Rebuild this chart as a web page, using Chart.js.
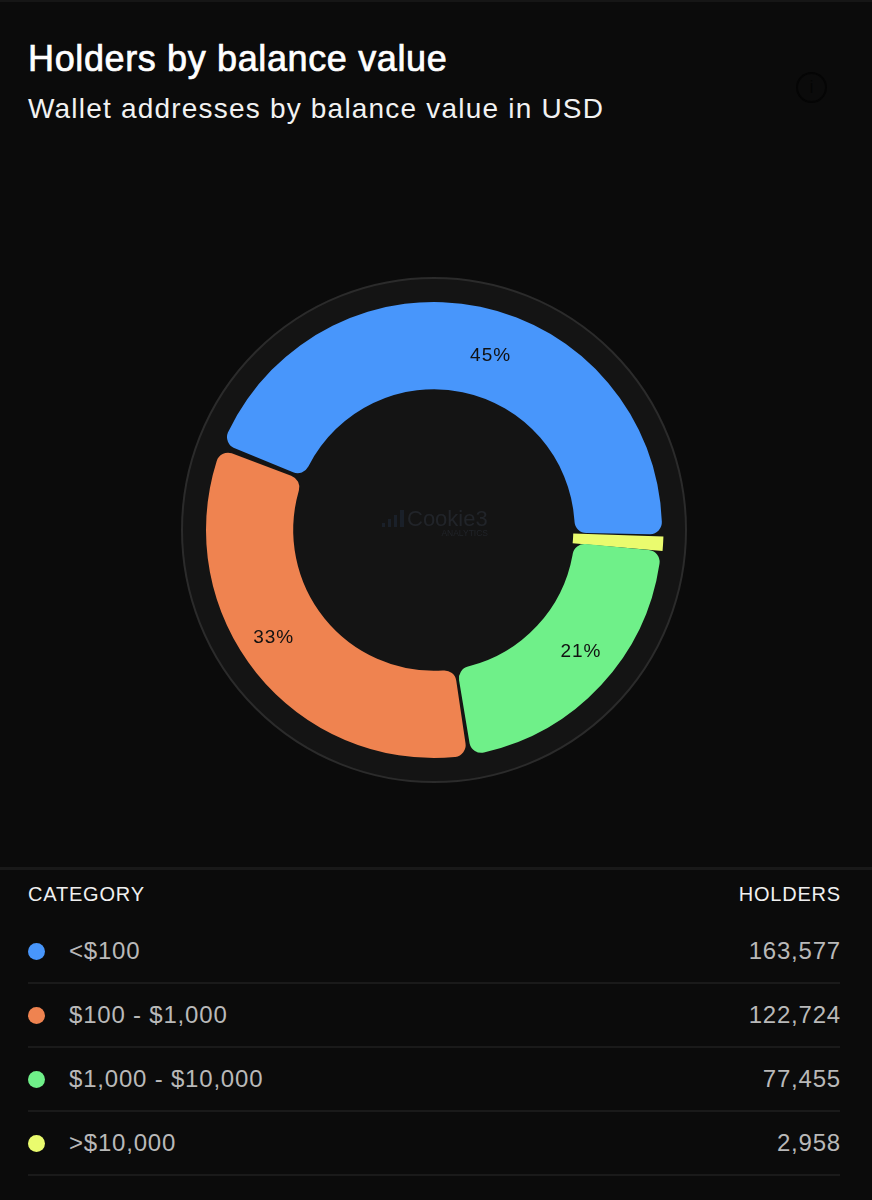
<!DOCTYPE html>
<html>
<head>
<meta charset="utf-8">
<script src="https://cdn.jsdelivr.net/npm/chart.js@4"></script>
<style>
  html, body { margin: 0; padding: 0; background: #0b0b0b; }
  body { position: relative; width: 872px; height: 1200px; overflow: hidden; font-family: "Liberation Sans", sans-serif; color: #fff; }
  .topline { position: absolute; left: 0; top: 0; width: 872px; height: 2px; background: #161616; }
  h1 { position: absolute; left: 28px; top: 37px; margin: 0; font-size: 36px; line-height: 44px; font-weight: 400; -webkit-text-stroke: 0.7px #fff; letter-spacing: 0.63px; white-space: nowrap; }
  .sub { position: absolute; left: 28px; top: 92px; font-size: 28px; line-height: 34px; color: #f2f2f2; letter-spacing: 1.2px; white-space: nowrap; }
  .info { position: absolute; left: 796px; top: 72px; width: 27px; height: 27px; border: 2px solid #050505; border-radius: 50%; color: #050505; font-size: 18px; line-height: 27px; text-align: center; }
  #chartBox { position: absolute; left: 134px; top: 230px; width: 600px; height: 600px; }
  .divider { position: absolute; left: 0; top: 867px; width: 872px; height: 3px; background: #191919; }
  .head { position: absolute; top: 882px; font-size: 20px; line-height: 24px; color: #f0f0f0; letter-spacing: 0.8px; }
  .row { position: absolute; left: 28px; width: 812px; height: 64px; border-bottom: 2px solid #1a1a1a; box-sizing: border-box; font-size: 24px; color: #b9b9b9; letter-spacing: 0.8px; }
  .dot { position: absolute; left: 0; top: 23px; width: 17px; height: 17px; border-radius: 50%; }
  .name { position: absolute; left: 41px; top: 16px; line-height: 30px; white-space: nowrap; }
  .num { position: absolute; right: -1px; top: 16px; line-height: 30px; }
</style>
</head>
<body>
<div class="topline"></div>
<h1>Holders by balance value</h1>
<div class="sub">Wallet addresses by balance value in USD</div>
<div class="info">i</div>
<div id="chartBox"><canvas id="holdersChart"></canvas></div>
<div class="divider"></div>
<div class="head" style="left:28px">CATEGORY</div>
<div class="head" style="right:31px">HOLDERS</div>
<div id="rows"></div>

<script>
const categories = ["<$100", "$100 - $1,000", "$1,000 - $10,000", ">$10,000"];
const holders = [163577, 122724, 77455, 2958];
const percentLabels = ["45%", "33%", "21%", ""];
const colors = ["#4896fb", "#ef8350", "#6ff089", "#eafb6e"];

// the ring runs counter-clockwise from 3 o'clock, chart.js only goes clockwise
const reversed = (list) => list.slice().reverse();

// percent labels sit off the slice middle: shift in degrees clockwise, distance from centre
const labelShift = [6.3, 5, -3.2, 0];
const labelRadius = [183, 193, 191, 0];

const rowsBox = document.getElementById("rows");
const rowTops = [920, 984, 1048, 1112];
categories.forEach((name, i) => {
  const row = document.createElement("div");
  row.className = "row";
  row.style.top = rowTops[i] + "px";
  row.innerHTML = `<span class="dot" style="background:${colors[i]}"></span>`;
  const label = document.createElement("span");
  label.className = "name";
  label.textContent = name;
  const num = document.createElement("span");
  num.className = "num";
  num.textContent = holders[i].toLocaleString("en-US");
  row.appendChild(label);
  row.appendChild(num);
  rowsBox.appendChild(row);
});

// dark disk with thin rim behind the ring, faint logo in the hole
const backdrop = {
  id: "backdrop",
  beforeDatasetsDraw(chart) {
    const arc = chart.getDatasetMeta(0).data[0];
    const ctx = chart.ctx;
    ctx.save();
    ctx.beginPath();
    ctx.arc(arc.x, arc.y, 252, 0, Math.PI * 2);
    ctx.fillStyle = "#141414";
    ctx.fill();
    ctx.lineWidth = 2;
    ctx.strokeStyle = "#2b2b2b";
    ctx.stroke();

    ctx.fillStyle = "#1a2029";
    [[-52, 4, 3], [-46, 8, 3], [-40, 12, 3], [-34, 17, 4]].forEach(([dx, h, w]) => {
      ctx.fillRect(arc.x + dx, arc.y - 3 - h, w, h);
    });
    ctx.fillStyle = "#212429";
    ctx.font = "22px 'Liberation Sans'";
    ctx.textAlign = "left";
    ctx.textBaseline = "middle";
    ctx.fillText("Cookie3", arc.x - 27, arc.y - 10);
    ctx.font = "8.5px 'Liberation Sans'";
    ctx.textAlign = "right";
    ctx.fillText("ANALYTICS", arc.x + 54, arc.y + 4);
    ctx.restore();
  }
};

const sliceLabels = {
  id: "sliceLabels",
  afterDatasetsDraw(chart) {
    const ctx = chart.ctx;
    const arcs = chart.getDatasetMeta(0).data;
    const labels = reversed(percentLabels);
    const shifts = reversed(labelShift);
    const radii = reversed(labelRadius);
    ctx.save();
    ctx.font = "19px 'Liberation Sans'";
    ctx.letterSpacing = "1px";
    ctx.fillStyle = "#111";
    ctx.textAlign = "center";
    ctx.textBaseline = "middle";
    arcs.forEach((arc, i) => {
      if (!labels[i]) return;
      const mid = (arc.startAngle + arc.endAngle) / 2 + shifts[i] * Math.PI / 180;
      ctx.fillText(labels[i], arc.x + Math.cos(mid) * radii[i], arc.y + Math.sin(mid) * radii[i]);
    });
    ctx.restore();
  }
};

new Chart(document.getElementById("holdersChart").getContext("2d"), {
  type: "doughnut",
  data: {
    labels: reversed(categories),
    datasets: [
      {
        data: reversed(holders),
        backgroundColor: reversed(colors),
        // yellow slice is so thin the spacing would eat most of it
        borderColor: reversed(colors),
        borderWidth: [3, 0, 0, 0],
        borderJoinStyle: "miter",
        spacing: 4,
        borderRadius: [0, 12, 12, 12],
      },
    ],
  },
  options: {
    responsive: true,
    maintainAspectRatio: false,
    animation: false,
    rotation: 92,
    radius: 226,
    cutout: "61.4%",
    plugins: {
      legend: { display: false },
      tooltip: { enabled: false },
    },
  },
  plugins: [backdrop, sliceLabels],
});
</script>
</body>
</html>
